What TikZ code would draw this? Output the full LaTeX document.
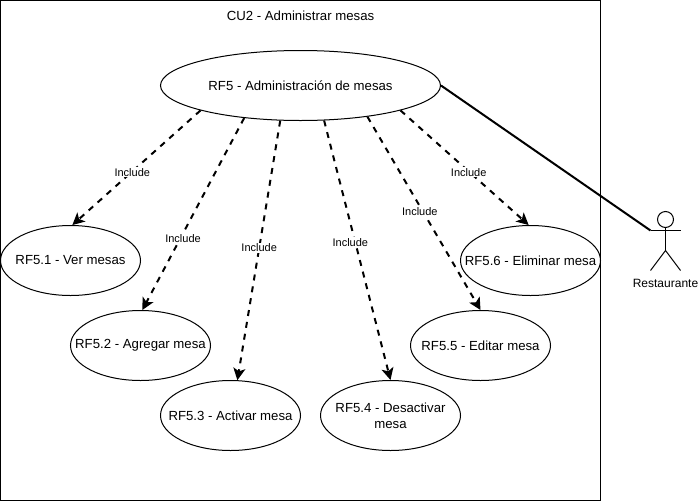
\documentclass[tikz,border=0pt]{standalone}
\usepackage{fontspec}
\setmainfont{Liberation Sans}
\usetikzlibrary{arrows.meta, shapes}
\tikzstyle{usecase} = [ellipse, draw=black, inner sep=-25, minimum width=140, minimum height=70, align=center,
                    font=\fontsize{13.2}{16}\selectfont]
\tikzstyle{include} = [draw=black, line width=2, dash pattern=on 6 off 6, -{Stealth[length=12,width=12,inset=3]}]
\tikzstyle{tag} = [fill=white, inner sep=1, font=\fontsize{11}{13}\selectfont]
\tikzstyle{plain} = [font=\fontsize{12}{14}\selectfont]
\begin{document}
\begin{tikzpicture}[x=1pt, y=-1pt, line width=1]
	\useasboundingbox (-0.5, -0.5) rectangle (697.5, 500.5);
	\node (Frame) [draw, minimum width=600, minimum height=500, inner sep=0] at (300, 250) {};
	\node (Title) [plain, font=\fontsize{13.2}{16}\selectfont] at (300, 15) {CU2 - Administrar mesas};

	\node (Main) [usecase, minimum width=280] at (300, 85) {RF5 - Administración de mesas};

	\node (Ver) [usecase] at (70, 260) {RF5.1 - Ver mesas};
	\node (Agregar) [usecase] at (140, 345) {RF5.2 - Agregar mesa};
	\node (Activar) [usecase] at (230, 415) {RF5.3 - Activar mesa};
	\node (Desactivar) [usecase] at (390, 415) {RF5.4 - Desactivar\\mesa};
	\node (Editar) [usecase] at (480, 345) {RF5.5 - Editar mesa};
	\node (Eliminar) [usecase] at (530, 260) {RF5.6 - Eliminar mesa};

	% includes
	\draw [include] (Main.194) -- node [tag, pos=0.54, xshift=1] (TagVer) {Include} (Ver.87);
	\draw [include] (Main.210) -- node [tag, pos=0.63, xshift=3] (TagAgregar) {Include} (Agregar.87);
	\draw [include] (Main.240) -- node [tag, pos=0.49] (TagActivar) {Include} (Activar.79);
	\draw [include] (Main.304) -- node [tag, pos=0.47, xshift=-5] (TagDesactivar) {Include} (Desactivar.north);
	\draw [include] (Main.335) -- node [tag, pos=0.49, xshift=-3] (TagEditar) {Include} (Editar.north);
	\draw [include] (Main.346) -- node [tag, pos=0.54, xshift=-1] (TagEliminar) {Include} (Eliminar.93);

	% actor
	\node (Head) [circle, draw=black, inner sep=0, minimum size=16] at (665, 219) {};
	\coordinate (Hip) at (665, 250);
	\coordinate (ArmL) at (650, 230);
	\coordinate (ArmR) at (680, 230);
	\coordinate (LegL) at (650, 270);
	\coordinate (LegR) at (680, 270);
	\draw (Head) -- (Hip);
	\draw (ArmL) -- (ArmR);
	\draw (LegL) -- (Hip) -- (LegR);
	\node (Actor) [plain] at (665, 283) {Restaurante};

	\draw [line width=2] (Main.east) -- (ArmL);
\end{tikzpicture}
\end{document}
